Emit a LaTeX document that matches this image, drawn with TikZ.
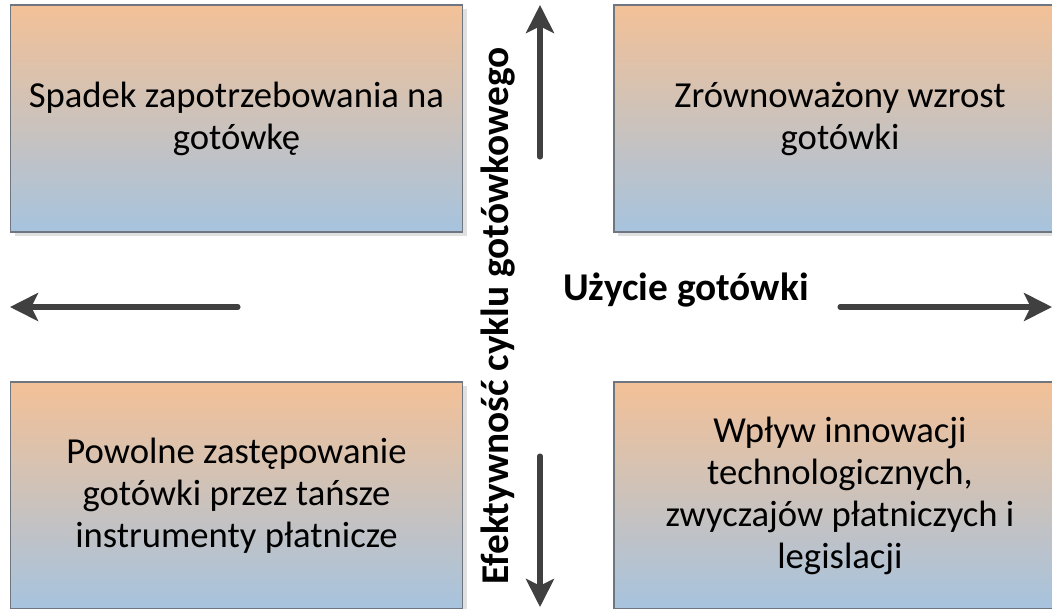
\documentclass[tikz,border=0pt]{standalone}
\usepackage{fontspec}
\setmainfont{Carlito}
\usetikzlibrary{arrows.meta, shadows}

\definecolor{boxtop}{RGB}{243,193,151}
\definecolor{boxbot}{RGB}{166,195,222}
\definecolor{boxline}{RGB}{112,118,128}
\definecolor{arrowgray}{RGB}{64,64,64}

\begin{document}
\begin{tikzpicture}[
    x=0.75pt, y=-0.75pt,
    quad/.style={draw=boxline, line width=1.1pt, top color=boxtop, bottom color=boxbot, minimum width=339pt, minimum height=170pt, align=center, font=\fontsize{27.5}{31.5}\selectfont, drop shadow={shadow xshift=3pt, shadow yshift=-3pt, fill=black!12, opacity=1}},
    axis/.style={-{Stealth[length=21pt, width=21pt, inset=5pt]}, line width=3.8pt, draw=arrowgray, line cap=round},
    axislbl/.style={font=\bfseries\fontsize{29.5}{32}\selectfont},
]
\useasboundingbox (0,0) rectangle (1052,608);

\node[quad] (tl) at (236.5,118.5) {Spadek zapotrzebowania na\\gotówkę};
\node[quad] (tr) at (840,118.5) {Zrównoważony wzrost\\gotówki};
\node[quad] (bl) at (236.5,495.5) {Powolne zastępowanie\\gotówki przez tańsze\\instrumenty płatnicze};
\node[quad] (br) at (840,495.5) {Wpływ innowacji\\technologicznych,\\zwyczajów płatniczych i\\legislacji};

\node[axislbl] (use) at (686,290) {Użycie gotówki};
\node[axislbl, rotate=90] (eff) at (498,316) {Efektywność cyklu gotówkowego};

% axes
\coordinate (up0) at (540,157);
\coordinate (up1) at (540,5);
\coordinate (dn0) at (540,456);
\coordinate (dn1) at (540,607);
\coordinate (lt0) at (238,307);
\coordinate (lt1) at (10,307);
\coordinate (rt0) at (840,307);
\coordinate (rt1) at (1052,307);

\draw[axis] (up0) -- (up1);
\draw[axis] (dn0) -- (dn1);
\draw[axis] (lt0) -- (lt1);
\draw[axis] (rt0) -- (rt1);
\end{tikzpicture}
\end{document}
